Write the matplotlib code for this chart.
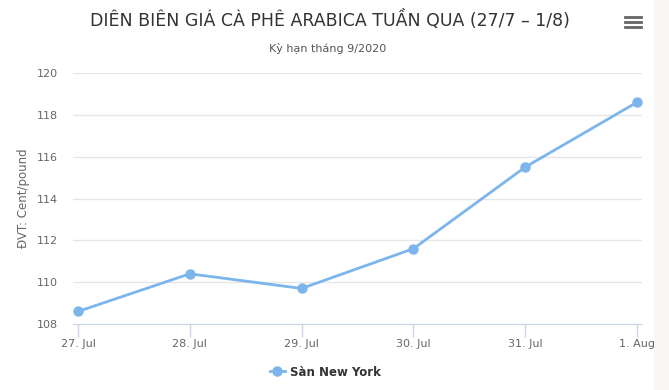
import matplotlib.pyplot as plt
from matplotlib.patches import Rectangle
from matplotlib.lines import Line2D

plt.rcParams['font.family'] = ['DejaVu Sans']

days = ['27. Jul', '28. Jul', '29. Jul', '30. Jul', '31. Jul', '1. Aug']
price = [108.6, 110.4, 109.7, 111.6, 115.5, 118.6]
yticks = [108, 110, 112, 114, 116, 118, 120]

W, H = 669, 390
fig = plt.figure(figsize=(W / 100, H / 100), dpi=100)
fig.patch.set_facecolor('white')

# grey strip on the right side of the screenshot
fig.add_artist(Rectangle((654 / W, 0), 1, 1, transform=fig.transFigure,
                         color='#f8f7f4', zorder=0))

# plot area in pixels: left 73, right 642, top 73, bottom 324
ax = fig.add_axes([73 / W, 1 - 324 / H, (642 - 73) / W, (324 - 73) / H])
ax.set_facecolor('white')

x = list(range(len(days)))
ax.plot(x, price, color='#7cb5ec', linewidth=2, marker='o', markersize=6.5,
        label='Sàn New York', zorder=3, clip_on=False)

ax.set_ylim(108, 120)
ax.set_yticks(yticks)
ax.set_xlim(-0.045, 5.045)
ax.set_xticks(x)
ax.set_xticklabels(days)
ax.grid(axis='y', color='#e6e6e6', linewidth=1)
ax.set_axisbelow(True)

for s in ['top', 'right', 'left']:
    ax.spines[s].set_visible(False)
ax.spines['bottom'].set_color('#ccd6eb')
ax.tick_params(axis='x', colors='#ccd6eb', length=9, width=1, labelcolor='#666666',
               labelsize=8, pad=2)
ax.tick_params(axis='y', length=0, labelcolor='#666666', labelsize=8, pad=11)

ax.set_ylabel('ĐVT: Cent/pound', color='#666666', fontsize=8.5, labelpad=5)

fig.text(330 / W, 1 - 20 / H, 'DIÊN BIÊN GIÁ CÀ PHÊ ARABICA TUẦN QUA (27/7 – 1/8)',
         ha='center', va='center', fontsize=12.5, color='#333333')
fig.text(328 / W, 1 - 48 / H, 'Kỳ hạn tháng 9/2020', ha='center', va='center',
         fontsize=8, color='#555555')

# menu icon
for yy in [17, 22, 27]:
    fig.add_artist(Line2D([625 / W, 641 / W], [1 - yy / H, 1 - yy / H],
                          transform=fig.transFigure, color='#666666', linewidth=2))

leg = fig.legend(loc='center', bbox_to_anchor=(325 / W, 1 - 372 / H), frameon=False,
                 handlelength=1.3, handletextpad=0.4,
                 prop={'weight': 'bold', 'size': 8.5})
for t in leg.get_texts():
    t.set_color('#333333')

fig.savefig('out.png', dpi=100)
